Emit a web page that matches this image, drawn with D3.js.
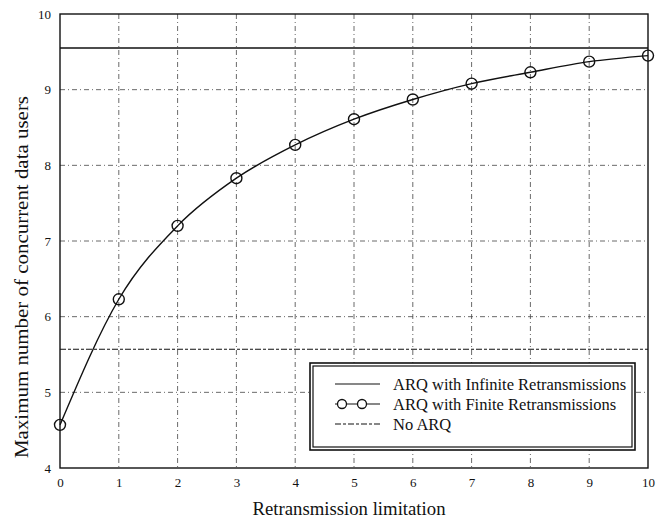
<!DOCTYPE html>
<html>
<head>
<meta charset="utf-8">
<script src="https://cdn.jsdelivr.net/npm/d3@7"></script>
<style>
  body { margin: 0; background: #fff; }
  text { font-family: "Liberation Serif", "DejaVu Serif", serif; fill: #111; }
</style>
</head>
<body>
<div id="chart"></div>
<script>
// data
const retxLimit = [0, 1, 2, 3, 4, 5, 6, 7, 8, 9, 10];
const finiteUsers = [4.57, 6.23, 7.2, 7.83, 8.27, 8.61, 8.87, 9.08, 9.23, 9.37, 9.45];
const infiniteUsers = 9.55;
const noArqUsers = 5.57;
const xTicks = [0, 1, 2, 3, 4, 5, 6, 7, 8, 9, 10];
const yTicks = [4, 5, 6, 7, 8, 9, 10];
const legendLabels = ['ARQ with Infinite Retransmissions', 'ARQ with Finite Retransmissions', 'No ARQ'];

const W = 667, H = 521;
const M = { TOP: 14, RIGHT: 19, BOTTOM: 53, LEFT: 60 };
const w = W - M.LEFT - M.RIGHT, h = H - M.TOP - M.BOTTOM;

const svg = d3.select('#chart').append('svg')
    .attr('width', W).attr('height', H)
  .append('g')
    .attr('transform', `translate(${M.LEFT},${M.TOP})`);

const x = d3.scaleLinear().domain([0, 10]).range([0, w]);
const y = d3.scaleLinear().domain([4, 10]).range([h, 0]);

// grid (dash-dot)
svg.append('g').selectAll('line.gx')
    .data(xTicks.slice(1, -1))
    .join('line')
    .attr('x1', d => x(d)).attr('x2', d => x(d))
    .attr('y1', 0).attr('y2', h)
    .attr('stroke', '#444').attr('stroke-width', 0.8)
    .attr('stroke-dasharray', '5,3,1,3');
svg.append('g').selectAll('line.gy')
    .data(yTicks.slice(1, -1))
    .join('line')
    .attr('x1', 0).attr('x2', w)
    .attr('y1', d => y(d)).attr('y2', d => y(d))
    .attr('stroke', '#444').attr('stroke-width', 0.8)
    .attr('stroke-dasharray', '5,3,1,3');

// frame
svg.append('rect')
    .attr('width', w).attr('height', h)
    .attr('fill', 'none').attr('stroke', '#111').attr('stroke-width', 1.4);

// axes
const xAxis = svg.append('g')
    .attr('transform', `translate(0,${h})`)
    .call(d3.axisBottom(x).tickValues(xTicks).tickFormat(d3.format('d')).tickSize(0).tickPadding(10));
const yAxis = svg.append('g')
    .call(d3.axisLeft(y).tickValues(yTicks).tickFormat(d3.format('d')).tickSize(0).tickPadding(9));
[xAxis, yAxis].forEach(a => {
  a.select('.domain').remove();
  a.selectAll('text').attr('font-size', 13).attr('font-family', '"Liberation Serif", serif').attr('fill', '#111');
});

// infinite retransmissions line
svg.append('line')
    .attr('x1', 0).attr('x2', w)
    .attr('y1', y(infiniteUsers)).attr('y2', y(infiniteUsers))
    .attr('stroke', '#111').attr('stroke-width', 1.4);

// no ARQ line
svg.append('line')
    .attr('x1', 0).attr('x2', w)
    .attr('y1', y(noArqUsers)).attr('y2', y(noArqUsers))
    .attr('stroke', '#111').attr('stroke-width', 1.1)
    .attr('stroke-dasharray', '6,2,3,2');

// finite retransmissions curve
const pts = retxLimit.map((d, i) => [d, finiteUsers[i]]);
svg.append('path')
    .datum(pts)
    .attr('fill', 'none').attr('stroke', '#111').attr('stroke-width', 1.4)
    .attr('d', d3.line().x(d => x(d[0])).y(d => y(d[1])).curve(d3.curveMonotoneX));
svg.append('g').selectAll('circle')
    .data(pts)
    .join('circle')
    .attr('cx', d => x(d[0])).attr('cy', d => y(d[1]))
    .attr('r', 5.5)
    .attr('fill', 'none').attr('stroke', '#111').attr('stroke-width', 1.4);

// axis titles
svg.append('text')
    .attr('x', 289).attr('y', h + 47)
    .attr('text-anchor', 'middle').attr('font-size', 18.5)
    .attr('textLength', 193).attr('lengthAdjust', 'spacingAndGlyphs')
    .text('Retransmission limitation');
svg.append('text')
    .attr('transform', `translate(${-32},${263}) rotate(-90)`)
    .attr('text-anchor', 'middle').attr('font-size', 19)
    .attr('textLength', 362).attr('lengthAdjust', 'spacingAndGlyphs')
    .text('Maximum number of concurrent data users');

// legend
const lg = svg.append('g').attr('transform', `translate(${310 - M.LEFT},${363 - M.TOP})`);
lg.append('rect')
    .attr('width', 325).attr('height', 87)
    .attr('fill', '#fff').attr('stroke', '#111').attr('stroke-width', 1.6);
lg.append('rect')
    .attr('x', 3).attr('y', 3).attr('width', 319).attr('height', 81)
    .attr('fill', 'none').attr('stroke', '#111').attr('stroke-width', 1.2);

const rows = lg.selectAll('g.row')
    .data(legendLabels)
    .join('g')
    .attr('transform', (d, i) => `translate(0,${21 + i * 20})`);
rows.append('line')
    .attr('x1', 25).attr('x2', 70).attr('y1', 0).attr('y2', 0)
    .attr('stroke', '#111').attr('stroke-width', 1.2)
    .attr('stroke-dasharray', (d, i) => i === 2 ? '6,2,3,2' : null);
rows.filter((d, i) => i === 1).selectAll('circle')
    .data([32, 52])
    .join('circle')
    .attr('cx', d => d).attr('cy', 0).attr('r', 4.5)
    .attr('fill', '#fff').attr('stroke', '#111').attr('stroke-width', 1.3);
rows.append('text')
    .attr('x', 83).attr('y', 5.5)
    .attr('font-size', 16.5)
    .text(d => d);
</script>
</body>
</html>
